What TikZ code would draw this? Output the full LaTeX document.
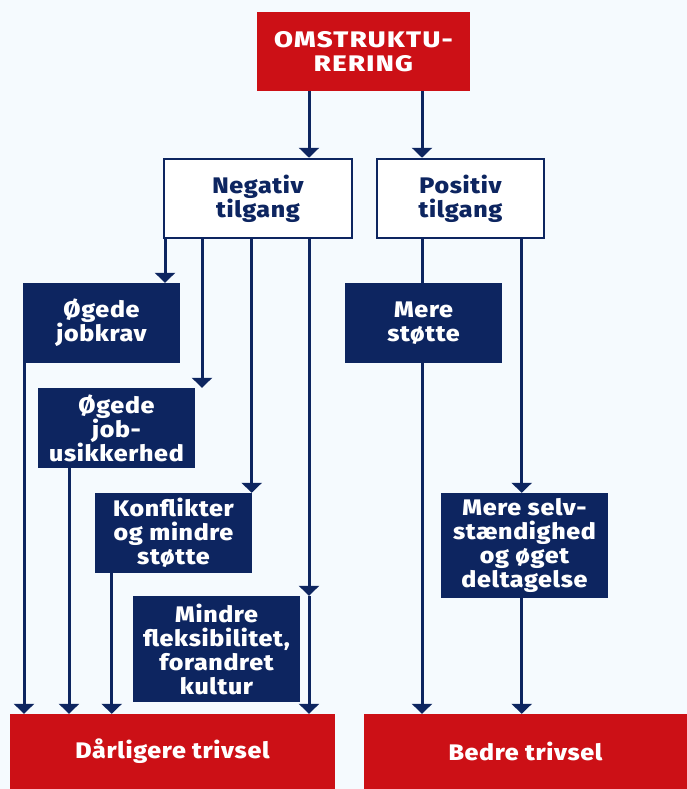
\documentclass[tikz,border=0pt]{standalone}
\usepackage{fontspec}
\setmainfont{Fira Sans}[BoldFont={Fira Sans ExtraBold}, LetterSpace=3, FakeStretch=1.11]
\newfontfamily\capsfont{Fira Sans}[BoldFont={Fira Sans ExtraBold}, LetterSpace=6, FakeStretch=1.22]
\usetikzlibrary{arrows.meta}
\definecolor{bgc}{HTML}{F5FAFE}
\definecolor{navy}{HTML}{0D2560}
\definecolor{redc}{HTML}{CC1016}
\tikzset{
  boxbase/.style={inner sep=0pt, align=center, font=\bfseries\fontsize{22.5}{24}\selectfont},
  redbox/.style={boxbase, fill=redc, text=white},
  navybox/.style={boxbase, fill=navy, text=white},
  whitebox/.style={boxbase, fill=white, draw=navy, line width=2.5pt, text=navy},
  conn/.style={draw=navy, line width=3pt},
  arr/.style={conn, -{Triangle[width=20pt,length=10pt]}},
}
\begin{document}
\begin{tikzpicture}[x=1pt,y=-1pt]
\fill[bgc] (0,0) rectangle (687,789);
\useasboundingbox (0,0) rectangle (687,789);
% nodes
\node[redbox, minimum width=213pt, minimum height=79pt, font=\capsfont\bfseries\fontsize{22.5}{24}\selectfont] (top) at (363.5,51.5) {OMSTRUKTU-\\RERING};
\node[whitebox, minimum width=188pt, minimum height=79pt] (neg) at (258,198.5) {Negativ\\tilgang};
\node[whitebox, minimum width=167pt, minimum height=79pt] (pos) at (460.5,198.5) {Positiv\\tilgang};
\node[navybox, minimum width=157pt, minimum height=80pt] (jobkrav) at (101.5,323) {Øgede\\jobkrav};
\node[navybox, minimum width=157pt, minimum height=80pt] (usikker) at (116.5,428) {Øgede\\job-\\usikkerhed};
\node[navybox, minimum width=157pt, minimum height=80pt] (konfl) at (173.5,533) {Konflikter\\og mindre\\støtte};
\node[navybox, minimum width=167pt, minimum height=106pt] (fleks) at (216.5,649) {Mindre\\fleksibilitet,\\forandret\\kultur};
\node[redbox, minimum width=325pt, minimum height=75pt] (dar) at (172.5,751.5) {Dårligere trivsel};
\node[navybox, minimum width=157pt, minimum height=80pt] (merest) at (423.5,323) {Mere\\støtte};
\node[navybox, minimum width=167pt, minimum height=105pt] (selv) at (524.5,545.5) {Mere selv-\\stændighed\\og øget\\deltagelse};
\node[redbox, minimum width=323pt, minimum height=75pt] (bedre) at (525.5,751.5) {Bedre trivsel};
% columns
\coordinate (cA) at (24,0);
\coordinate (cB) at (69,0);
\coordinate (cC) at (111.7,0);
\coordinate (cD) at (165,0);
\coordinate (cE) at (202,0);
\coordinate (cF) at (251.7,0);
\coordinate (cG) at (309,0);
\coordinate (cH) at (422,0);
\coordinate (cI) at (521.7,0);
% connectors
\draw[arr] (top.south -| cG) -- (neg.north -| cG);
\draw[arr] (top.south -| cH) -- (pos.north -| cH);
\draw[arr] (neg.south -| cD) -- (jobkrav.north -| cD);
\draw[arr] (neg.south -| cE) -- (usikker.north -| cE);
\draw[arr] (neg.south -| cF) -- (konfl.north -| cF);
\draw[arr] (neg.south -| cG) -- (fleks.north -| cG);
\draw[arr] (fleks.north -| cG) -- (dar.north -| cG);
\draw[arr] (jobkrav.south -| cA) -- (dar.north -| cA);
\draw[arr] (usikker.south -| cB) -- (dar.north -| cB);
\draw[arr] (konfl.south -| cC) -- (dar.north -| cC);
\draw[conn] (pos.south -| cH) -- (merest.north -| cH);
\draw[arr] (merest.south -| cH) -- (bedre.north -| cH);
\draw[arr] (pos.south -| cI) -- (selv.north -| cI);
\draw[arr] (selv.south -| cI) -- (bedre.north -| cI);
\end{tikzpicture}
\end{document}
